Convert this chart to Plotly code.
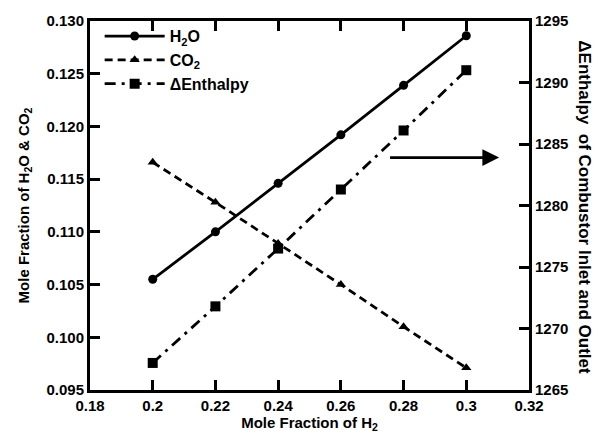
import plotly.graph_objects as go

x_h2 = [0.20, 0.22, 0.24, 0.26, 0.28, 0.30]
h2o = [0.1055, 0.1100, 0.1146, 0.1192, 0.1239, 0.1286]
co2 = [0.1166, 0.1128, 0.1089, 0.1050, 0.1010, 0.0971]
enthalpy = [1267.2, 1271.8, 1276.5, 1281.3, 1286.1, 1291.0]

x_ticks = [0.18, 0.2, 0.22, 0.24, 0.26, 0.28, 0.3, 0.32]
x_ticktext = ["0.18", "0.2", "0.22", "0.24", "0.26", "0.28", "0.3", "0.32"]
y1_ticks = [0.095, 0.100, 0.105, 0.110, 0.115, 0.120, 0.125, 0.130]
y2_ticks = [1265, 1270, 1275, 1280, 1285, 1290, 1295]

FONT = "Liberation Sans, Arial, sans-serif"
tickfont = dict(family=FONT, size=15, color="black", weight=700)
titlefont = dict(family=FONT, size=15, color="black", weight=700)

fig = go.Figure()
fig.add_trace(go.Scatter(x=x_h2, y=h2o, mode="lines+markers", name="H<sub>2</sub>O",
                         line=dict(color="black", width=2.8, dash="solid"),
                         marker=dict(symbol="circle", size=9, color="black")))
fig.add_trace(go.Scatter(x=x_h2, y=co2, mode="lines+markers", name="CO<sub>2</sub>",
                         line=dict(color="black", width=2.8, dash="8px,5px"),
                         marker=dict(symbol="triangle-up", size=9, color="black")))
fig.add_trace(go.Scatter(x=x_h2, y=enthalpy, mode="lines+markers", name="\u0394Enthalpy",
                         yaxis="y2",
                         line=dict(color="black", width=2.8, dash="11px,6px,3px,6px"),
                         marker=dict(symbol="square", size=10, color="black")))

fig.update_layout(
    width=602, height=438,
    margin=dict(l=90, r=73, t=17, b=48),
    paper_bgcolor="white", plot_bgcolor="white",
    font=dict(family=FONT, color="black"),
    showlegend=True,
    legend=dict(x=0.022, y=1.005, xanchor="left", yanchor="top",
                bgcolor="rgba(0,0,0,0)", borderwidth=0,
                font=dict(family=FONT, size=16, color="black", weight=700),
                itemwidth=60, tracegroupgap=0),
    xaxis=dict(range=[0.18, 0.32], tickvals=x_ticks, ticktext=x_ticktext,
               ticks="inside", ticklen=10, tickwidth=3, tickcolor="black",
               showline=True, linewidth=3, linecolor="black", mirror="ticks",
               showgrid=False, zeroline=False, tickfont=tickfont,
               title=dict(text="Mole Fraction of H<sub>2</sub>", standoff=0, font=titlefont)),
    yaxis=dict(range=[0.095, 0.130], tickvals=y1_ticks, tickformat=".3f",
               ticks="inside", ticklen=10, tickwidth=3, tickcolor="black",
               showline=True, linewidth=3, linecolor="black",
               showgrid=False, zeroline=False, tickfont=tickfont,
               title=dict(text="Mole Fraction of H<sub>2</sub>O & CO<sub>2</sub>", standoff=14,
                          font=titlefont)),
    yaxis2=dict(range=[1265, 1295], tickvals=y2_ticks, overlaying="y", side="right",
                ticks="inside", ticklen=10, tickwidth=3, tickcolor="black",
                showline=True, linewidth=3, linecolor="black",
                showgrid=False, zeroline=False, tickfont=tickfont),
)

fig.add_annotation(xref="paper", yref="paper", x=1.1276, y=0.495,
                   xanchor="center", yanchor="middle",
                   text="\u0394Enthalpy  of Combustor Inlet and Outlet", textangle=90,
                   showarrow=False, font=dict(family=FONT, size=17, color="black", weight=700))

fig.add_annotation(xref="x domain", yref="y domain", x=0.932, y=0.63, ax=0.68, ay=0.63,
                   axref="x domain", ayref="y domain", text="", showarrow=True,
                   arrowhead=2, arrowsize=1.2, arrowwidth=2.8, arrowcolor="black")

fig.write_html("out.html")
